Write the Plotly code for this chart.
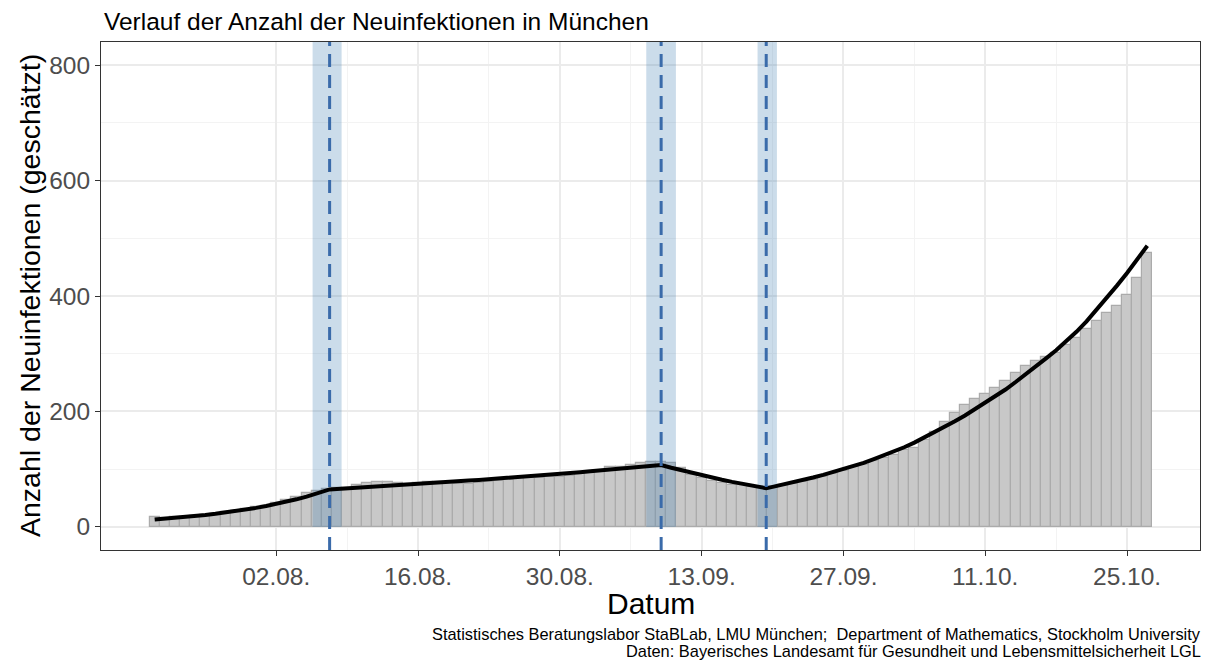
import pandas as pd
import plotly.graph_objects as go

# ---------------- data ----------------
start_date = "2020-07-21"

bar_values = [
    17, 16, 17, 18, 19, 21, 23, 25, 28, 31,
    34, 37, 41, 46, 52, 58, 63, 65, 67, 68,
    73, 76, 77, 77, 76, 75, 76, 77, 77, 76,
    74, 75, 76, 78, 80, 82, 84, 85, 85, 86,
    87, 89, 91, 93, 95, 103, 104, 107, 110, 112,
    113, 111, 102, 90, 84, 79, 76, 73, 72, 70,
    69, 68, 72, 74, 78, 82, 87, 92, 97, 103,
    108, 114, 120, 125, 133, 137, 150, 165, 182, 198,
    212, 221, 230, 240, 253, 267, 279, 288, 295, 302,
    315, 328, 343, 357, 370, 382, 401, 432, 474,
]

curve_values = [
    13.0, 14.3, 15.7, 17.2, 18.9, 20.7, 22.7, 24.9, 27.4, 30.0,
    33.0, 36.2, 39.7, 43.6, 47.8, 52.5, 57.6, 63.2, 65.7, 66.7,
    67.8, 68.8, 69.9, 70.9, 72.0, 73.1, 74.3, 75.4, 76.6, 77.7,
    78.9, 80.2, 81.4, 82.6, 83.9, 85.2, 86.5, 87.8, 89.2, 90.6,
    91.9, 93.4, 94.8, 96.3, 97.7, 99.2, 100.8, 102.3, 103.9, 105.5,
    107.1, 102.4, 97.9, 93.5, 89.4, 85.4, 81.7, 78.0, 74.6, 71.3,
    68.1, 69.3, 73.0, 77.0, 81.2, 85.6, 90.2, 95.1, 100.3, 105.8,
    111.0, 117.5, 124.0, 131.0, 138.0, 146.0, 155.0, 164.0, 173.0, 183.0,
    193.0, 204.0, 215.0, 226.0, 238.0, 251.0, 264.0, 278.0, 292.0, 306.0,
    321.0, 338.0, 356.0, 376.0, 397.0, 418.0, 440.0, 463.0, 487.0,
]

# estimated change points with their uncertainty intervals
cp_dates = ["2020-08-07 06:30", "2020-09-09 00:00", "2020-09-19 09:00"]
cp_curve_values = [65.0, 107.1, 67.0]
cp_lower = ["2020-08-05 14:10", "2020-09-07 12:45", "2020-09-18 12:30"]
cp_upper = ["2020-08-08 10:50", "2020-09-10 11:00", "2020-09-20 10:20"]

tick_dates = ["2020-08-02", "2020-08-16", "2020-08-30", "2020-09-13",
              "2020-09-27", "2020-10-11", "2020-10-25"]
tick_labels = ["02.08.", "16.08.", "30.08.", "13.09.", "27.09.", "11.10.", "25.10."]
minor_dates = ["2020-08-09", "2020-08-23", "2020-09-06", "2020-09-20",
               "2020-10-04", "2020-10-18"]

y_ticks = [0, 200, 400, 600, 800]
y_minor = [100, 300, 500, 700]
y_range = [-40, 840]
x_range = ["2020-07-15 16:48", "2020-11-01 04:48"]

title_text = "Verlauf der Anzahl der Neuinfektionen in München"
x_title = "Datum"
y_title = "Anzahl der Neuinfektionen (geschätzt)"
caption_lines = [
    "Statistisches Beratungslabor StaBLab, LMU München;\u00a0 Department of Mathematics, Stockholm University",
    "Daten: Bayerisches Landesamt für Gesundheit und Lebensmittelsicherheit LGL",
]

# ---------------- figure ----------------
FONT = "Liberation Sans, Arial, Helvetica, sans-serif"
dates = pd.date_range(start_date, periods=len(bar_values), freq="D")

fig = go.Figure()

fig.add_trace(go.Bar(
    x=dates, y=bar_values, width=86400000,
    marker=dict(color="#C8C8C8", line=dict(color="#ABABAB", width=1.2)),
    hoverinfo="skip", showlegend=False,
))

# uncertainty bands (between bars and curve)
for lo, hi in zip(cp_lower, cp_upper):
    fig.add_trace(go.Scatter(
        x=[lo, hi, hi, lo, lo],
        y=[0, 0, y_range[1], y_range[1], 0],
        mode="lines", fill="toself",
        fillcolor="rgba(70,130,180,0.28)",
        line=dict(width=0), hoverinfo="skip", showlegend=False,
    ))

# fitted curve (daily points plus change points)
curve = pd.DataFrame({"x": list(dates) + list(pd.to_datetime(cp_dates)),
                      "y": curve_values + cp_curve_values}).sort_values("x", kind="stable")
fig.add_trace(go.Scatter(
    x=curve["x"], y=curve["y"], mode="lines",
    line=dict(color="black", width=4), hoverinfo="skip", showlegend=False,
))

shapes = []
for d in cp_dates:
    shapes.append(dict(type="line", xref="x", yref="paper", x0=d, x1=d, y0=0, y1=1,
                       line=dict(color="#3A6BAA", width=3, dash="13px,8px"), layer="above"))

annotations = [
    dict(text=title_text, xref="paper", yref="paper", x=0, y=1, xanchor="left",
         yanchor="middle", yshift=21, xshift=1, showarrow=False,
         font=dict(family=FONT, size=24.5, color="black")),
    dict(text=x_title, xref="paper", yref="paper", x=0.5, y=0, xanchor="center",
         yanchor="middle", yshift=-53, showarrow=False,
         font=dict(family=FONT, size=30, color="black")),
    dict(text=y_title, xref="paper", yref="paper", x=0, y=0.5, xanchor="center",
         yanchor="middle", xshift=-71, textangle=-90, showarrow=False,
         font=dict(family=FONT, size=28.5, color="black")),
    dict(text=caption_lines[0], xref="paper", yref="paper", x=1, y=0,
         xanchor="right", yanchor="middle", yshift=-84, xshift=3, align="right", showarrow=False,
         font=dict(family=FONT, size=16.4, color="black")),
    dict(text=caption_lines[1], xref="paper", yref="paper", x=1, y=0,
         xanchor="right", yanchor="middle", yshift=-101, xshift=3, align="right", showarrow=False,
         font=dict(family=FONT, size=16.4, color="black")),
]

fig.update_layout(
    width=1212, height=664,
    margin=dict(l=101, r=12, t=42, b=114, autoexpand=False),
    paper_bgcolor="white", plot_bgcolor="white",
    bargap=0, showlegend=False,
    font=dict(family=FONT),
    shapes=shapes, annotations=annotations,
)

fig.update_xaxes(
    type="date", range=x_range,
    tickmode="array", tickvals=tick_dates, ticktext=tick_labels,
    ticks="outside", ticklen=5, tickwidth=1, tickcolor="#333333",
    tickfont=dict(family=FONT, size=24.5, color="#4D4D4D"),
    showgrid=True, gridcolor="#EBEBEB", gridwidth=1.5,
    minor=dict(tickvals=minor_dates, showgrid=True, gridcolor="#F3F3F3", gridwidth=0.8, ticks=""),
    showline=True, linecolor="#333333", linewidth=1, mirror=True, zeroline=False,
)
fig.update_yaxes(
    range=y_range, tickmode="array", tickvals=y_ticks,
    ticks="outside", ticklen=5, tickwidth=1, tickcolor="#333333",
    tickfont=dict(family=FONT, size=24.5, color="#4D4D4D"),
    showgrid=True, gridcolor="#EBEBEB", gridwidth=1.5,
    minor=dict(tickvals=y_minor, showgrid=True, gridcolor="#F3F3F3", gridwidth=0.8, ticks=""),
    showline=True, linecolor="#333333", linewidth=1, mirror=True, zeroline=False,
)

fig.write_html("out.html",
               config={"displayModeBar": False},
               post_script="document.body.style.margin='0';document.body.style.overflow='hidden';")
